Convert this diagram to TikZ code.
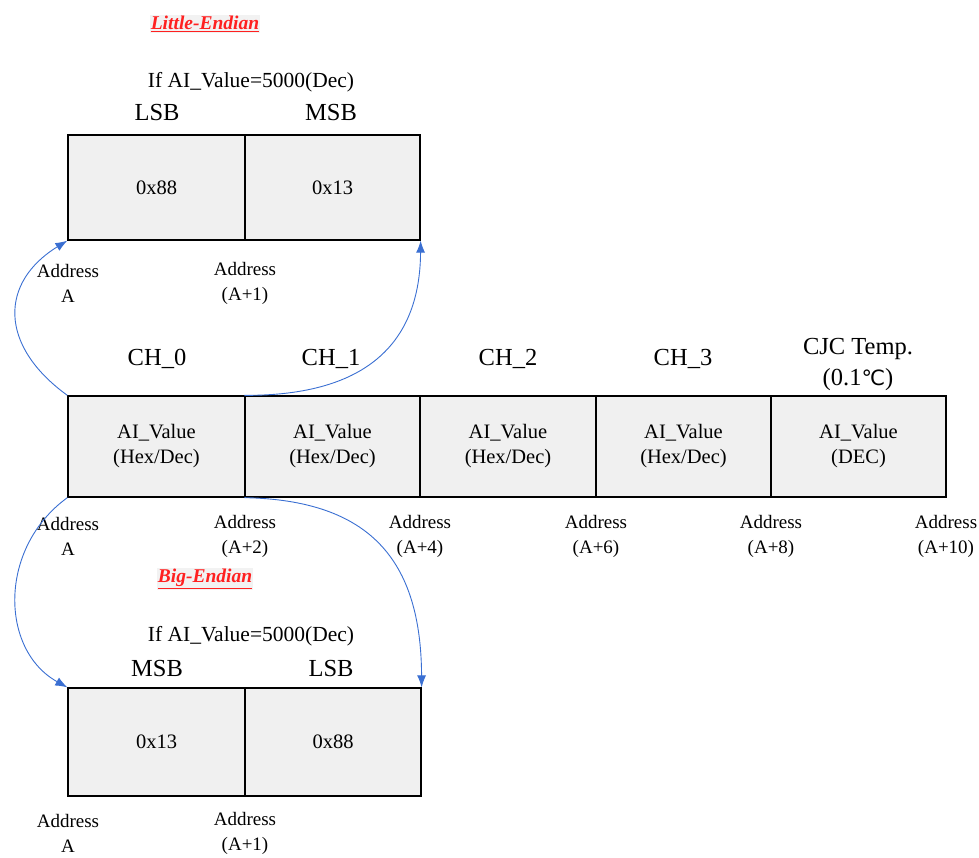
\documentclass[tikz,border=0pt]{standalone}
\usepackage{fontspec}
\setmainfont{Liberation Serif}
\newfontfamily\degfont{DejaVu Sans}
\usetikzlibrary{arrows.meta}

\definecolor{cellgray}{HTML}{F0F0F0}
\definecolor{linkblue}{HTML}{3A6FD2}
\definecolor{titlered}{HTML}{FF2020}

\tikzset{
  cell/.style={draw,fill=cellgray,line width=1.3pt,inner sep=0pt,align=center,
    font=\fontsize{20.5}{25}\selectfont},
  addr/.style={align=center,font=\fontsize{19}{25}\selectfont},
  head/.style={align=center,font=\fontsize{24.5}{31}\selectfont},
  cond/.style={font=\fontsize{21.5}{24}\selectfont},
  endian/.style={text=titlered,fill=black!5,inner sep=1pt,
    font=\fontsize{19.5}{22}\selectfont\bfseries\itshape},
  link/.style={draw=linkblue,line width=0.9pt,-{Latex[length=12pt,width=9pt]}}
}

\begin{document}
\begin{tikzpicture}[x=1pt,y=-1pt]
  \useasboundingbox (0,0) rectangle (979,857);

  % little endian
  \node[endian] (letitle) at (205,24) {\underline{Little-Endian}};
  \node[cond]   (lecond)  at (251,82) {If AI\_Value=5000(Dec)};
  \node[head]   (lelsb)   at (157,113) {LSB};
  \node[head]   (lemsb)   at (331,113) {MSB};

  \begin{scope}[every node/.style={cell,minimum height=105pt}]
    \node[minimum width=177pt] (le0) at (156.5,187.5) {0x88};
    \node[minimum width=175pt] (le1) at (332.5,187.5) {0x13};
  \end{scope}

  \node[addr] (lea0) at (68,283)  {Address\\A};
  \node[addr] (lea1) at (245,283) {Address\\(A+1)};

  % channels
  \node[head] (ch0) at (157,359) {CH\_0};
  \node[head] (ch1) at (331,359) {CH\_1};
  \node[head] (ch2) at (508,359) {CH\_2};
  \node[head] (ch3) at (683,359) {CH\_3};
  \node[head] (cjc) at (858,364) {CJC Temp.\\(0.1{\degfont\fontsize{21}{31}\selectfont ℃})};

  \begin{scope}[every node/.style={cell,minimum height=101pt}]
    \node[minimum width=177pt] (m0) at (156.5,446.5) {AI\_Value\\(Hex/Dec)};
    \node[minimum width=175pt] (m1) at (332.5,446.5) {AI\_Value\\(Hex/Dec)};
    \node[minimum width=176pt] (m2) at (508,446.5)   {AI\_Value\\(Hex/Dec)};
    \node[minimum width=175pt] (m3) at (683.5,446.5) {AI\_Value\\(Hex/Dec)};
    \node[minimum width=175pt] (m4) at (858.5,446.5) {AI\_Value\\(DEC)};
  \end{scope}

  \node[addr] (ma0) at (68,536)  {Address\\A};
  \node[addr] (ma1) at (245,536) {Address\\(A+2)};
  \node[addr] (ma2) at (420,536) {Address\\(A+4)};
  \node[addr] (ma3) at (596,536) {Address\\(A+6)};
  \node[addr] (ma4) at (771,536) {Address\\(A+8)};
  \node[addr] (ma5) at (946,536) {Address\\(A+10)};

  % big endian
  \node[endian] (betitle) at (205,579) {\underline{Big-Endian}};
  \node[cond]   (becond)  at (251,636) {If AI\_Value=5000(Dec)};
  \node[head]   (bemsb)   at (157,668) {MSB};
  \node[head]   (belsb)   at (331,668) {LSB};

  \begin{scope}[every node/.style={cell,minimum height=108pt}]
    \node[minimum width=177pt] (be0) at (156.5,742) {0x13};
    \node[minimum width=176pt] (be1) at (333,742)   {0x88};
  \end{scope}

  \node[addr] (bea0) at (68,833)  {Address\\A};
  \node[addr] (bea1) at (245,833) {Address\\(A+1)};

  % links
  \draw[link] (m0.north west) .. controls (-2,345) and (0,282) .. (le0.south west);
  \draw[link] (m1.north west) .. controls (370,396) and (420,340) .. (le1.south east);
  \draw[link] (m0.south west) .. controls (-2,548) and (0,650) .. (be0.north west);
  \draw[link] (m1.south west) .. controls (370,500) and (421,560) .. (be1.north east);

\end{tikzpicture}
\end{document}
